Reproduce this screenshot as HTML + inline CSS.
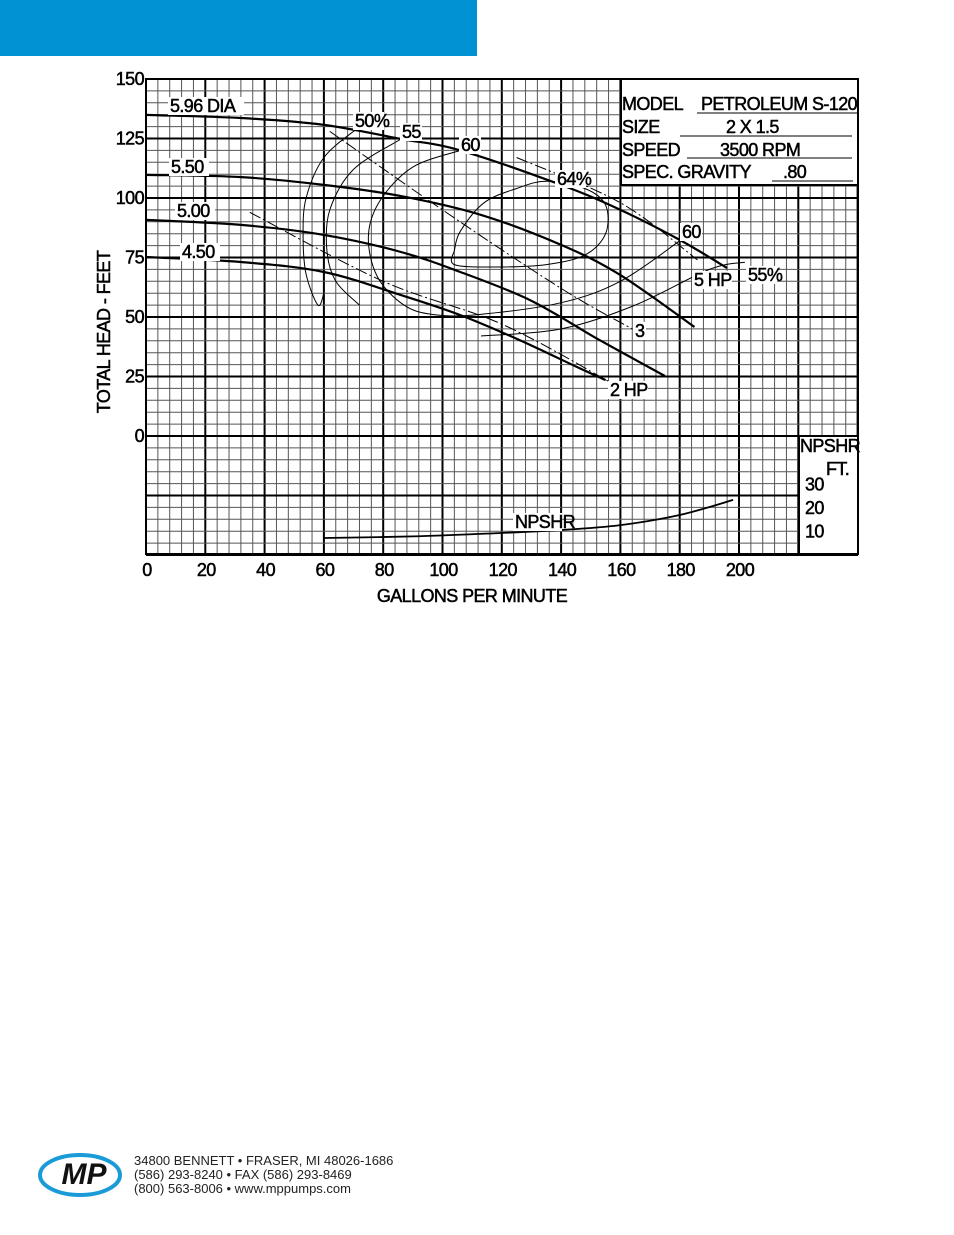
<!DOCTYPE html>
<html><head><meta charset="utf-8"><style>
html,body{margin:0;padding:0;background:#fff;}
svg{display:block;font-family:"Liberation Sans",sans-serif;}
</style></head><body>
<svg id="s" width="954" height="1235" viewBox="0 0 954 1235" xmlns="http://www.w3.org/2000/svg">
<rect x="0" y="0" width="477" height="56" fill="#0092d2"/>
<g id="grid"></g>
<g id="marks"></g>
<g id="labels"></g>
<g>
  <ellipse cx="80" cy="1175" rx="40" ry="20" fill="none" stroke="#1a9ad6" stroke-width="4"/>
  <text x="84" y="1184" font-size="30" font-weight="bold" font-style="italic" fill="#111" text-anchor="middle">MP</text>
  <text x="80" y="1190" font-size="7" font-weight="bold" font-style="italic" fill="#fff" text-anchor="middle">PUMPS</text>
  <text x="134" y="1165" font-size="13" fill="#222">34800 BENNETT • FRASER, MI 48026-1686</text>
  <text x="134" y="1179" font-size="13" fill="#222">(586) 293-8240 • FAX (586) 293-8469</text>
  <text x="134" y="1193" font-size="13" fill="#222">(800) 563-8006 • www.mppumps.com</text>
</g>
</svg>
<script>
// data (gpm, feet)
const xTicks=[0,20,40,60,80,100,120,140,160,180,200];
const yTicks=[0,25,50,75,100,125,150];
const npshTicks=[10,20,30];
const diaNames=["5.96 DIA","5.50","5.00","4.50"];
const dia596=[[0,134.9],[32,133.6],[60,130.7],[86,124.8],[106,120],[140,105.5],[160,95],[180,82.4],[196,70.6]];
const dia550=[[0,109.7],[32,108.8],[60,105.5],[86,100.8],[113,92.9],[140,80.3],[160,67.6],[185,45.8]];
const dia500=[[0,90.8],[32,88.7],[60,84.5],[86,77.3],[106,68.9],[129.5,57.1],[153,40.3],[175,25.2]];
const dia450=[[0,75.2],[32,73.1],[60,68.9],[86,59.2],[106,50.8],[126,40.3],[146,28.6],[155,23.5]];
const eff50=[[71,129],[60,117],[54,100],[53,84],[54,68],[58,55],[60,60]];
const eff55L=[[86,124.8],[70,112],[62,95],[61,78],[64,65],[72,55]];
const eff60=[[106,120],[90,113],[79,99],[75,84],[78,67],[87,55],[97,51],[112,51],[140,56],[160,65],[180,82]];
const eff55R=[[113,42],[140,45],[165,55],[190,70],[202,73]];
const eff64=[[104,78],[106,86],[114,98],[125,104],[135,107],[148,104],[155,97],[155,85],[148,76],[135,72],[118,71],[104,72],[104,78]];
const hp2=[[35,94],[80,65],[120,47],[156,23]];
const hp3=[[62,128],[100,95],[140,62],[164,45]];
const hp5=[[125,117],[160,98],[186,74]];
const npshr=[[60,6.8],[90,7.5],[119,8.9],[140,10.2],[160,12.3],[180,16.6],[198,23]];

const X=g=>146+g*2.965, Y=h=>436-h*2.38, N=n=>554-n*2.35;
const NS="http://www.w3.org/2000/svg";
function mk(tag,parent,attrs){const e=document.createElementNS(NS,tag);for(const k in attrs)e.setAttribute(k,attrs[k]);parent.appendChild(e);return e;}
const grid=document.getElementById('grid'),marks=document.getElementById('marks'),labels=document.getElementById('labels');
for(let g=0;g<=240;g+=4){const major=g%20===0;const l=mk('line',grid,{x1:X(g),x2:X(g),y1:79,y2:554,stroke:major?'#000':'#555','stroke-width':major?2:1});

}
for(let h=-50;h<=150;h+=5){const major=h%25===0;const l=mk('line',grid,{x1:146,x2:858,y1:Y(h),y2:Y(h),stroke:major?'#000':'#555','stroke-width':major?2:1});

}
let p=mk('rect',grid,{x:621,y:79,width:237,height:106,fill:'#fff',stroke:'#000','stroke-width':2});


p=mk('rect',grid,{x:799,y:436,width:59,height:118,fill:'#fff',stroke:'#000','stroke-width':2});


p=mk('rect',grid,{x:146,y:79,width:712,height:475,fill:'none',stroke:'#000','stroke-width':2});


function path(pts,fy,w,dash,name){
 const P=pts.map(q=>[X(q[0]),fy(q[1])]);
 let d='M'+P[0][0].toFixed(1)+','+P[0][1].toFixed(1);
 for(let i=0;i<P.length-1;i++){const p0=P[i-1]||P[i],p1=P[i],p2=P[i+1],p3=P[i+2]||p2;
  const c1=[p1[0]+(p2[0]-p0[0])/6,p1[1]+(p2[1]-p0[1])/6],c2=[p2[0]-(p3[0]-p1[0])/6,p2[1]-(p3[1]-p1[1])/6];
  d+=' C'+c1[0].toFixed(1)+','+c1[1].toFixed(1)+' '+c2[0].toFixed(1)+','+c2[1].toFixed(1)+' '+p2[0].toFixed(1)+','+p2[1].toFixed(1);}
 const e=mk('path',marks,{d:d,fill:'none',stroke:'#000','stroke-width':w,'stroke-linejoin':'round'});if(dash)e.setAttribute('stroke-dasharray',dash);
 
 }
path(dia596,Y,2.2,null,'curve-5.96');path(dia550,Y,2.2,null,'curve-5.50');path(dia500,Y,2.2,null,'curve-5.00');path(dia450,Y,2.2,null,'curve-4.50');
path(eff50,Y,1,null,'eff-50');path(eff55L,Y,1,null,'eff-55-left');path(eff60,Y,1,null,'eff-60');path(eff55R,Y,1,null,'eff-55-right');path(eff64,Y,1,null,'eff-64');
path(hp2,Y,1,'12 3 2 3','hp-2');path(hp3,Y,1,'12 3 2 3','hp-3');path(hp5,Y,1,'12 3 2 3','hp-5');
path(npshr,N,1.8,null,'npshr-curve');
function txt(x,y,s,name,opt){opt=opt||{};const fs=opt.fs||18;const e=mk('text',labels,{x:x,y:y,'font-size':fs,'text-anchor':opt.a||'start',fill:'#000',stroke:'#000','stroke-width':0.5,'letter-spacing':'-0.6'});
if(opt.bg){const w=s.length*fs*0.5+4;const r=document.createElementNS(NS,'rect');r.setAttribute('x',x-2);r.setAttribute('y',y-15);r.setAttribute('width',w);r.setAttribute('height',18);r.setAttribute('fill','#fff');labels.insertBefore(r,e);}
if(opt.rot)e.setAttribute('transform',opt.rot);e.textContent=s;

return e;}
xTicks.forEach(g=>txt(X(g)+1,576,String(g),'x-tick-'+g,{a:'middle'}));
yTicks.forEach(h=>txt(144,Y(h)+6,String(h),'y-tick-'+h,{a:'end'}));
npshTicks.forEach(n=>txt(805,N(n)+7,String(n),'npshr-tick-'+n));
txt(472,602,'GALLONS PER MINUTE','x-axis-title',{a:'middle'});
txt(110,332,'TOTAL HEAD - FEET','y-axis-title',{a:'middle',rot:'rotate(-90 110 332)'});
txt(170,112,diaNames[0],'label-5.96',{bg:1});txt(171,173,diaNames[1],'label-5.50',{bg:1});txt(177,217,diaNames[2],'label-5.00',{bg:1});txt(182,258,diaNames[3],'label-4.50',{bg:1});
txt(355,127,'50%','label-50',{bg:1});txt(402,138,'55','label-55',{bg:1});txt(461,151,'60','label-60',{bg:1});txt(557,185,'64%','label-64',{bg:1});
txt(682,238,'60','label-60-right',{bg:1});txt(748,281,'55%','label-55-right',{bg:1});
txt(694,286,'5 HP','label-5hp',{bg:1});txt(635,337,'3','label-3hp',{bg:1});txt(610,396,'2 HP','label-2hp',{bg:1});
txt(515,528,'NPSHR','label-npshr',{bg:1});
txt(800,452,'NPSHR','npshr-title');txt(826,475,'FT.','npshr-unit');
txt(622,110,'MODEL','spec-model');txt(701,110,'PETROLEUM S-120','spec-model-value');
txt(622,133,'SIZE','spec-size');txt(726,133,'2 X 1.5','spec-size-value');
txt(622,156,'SPEED','spec-speed');txt(720,156,'3500 RPM','spec-speed-value');
txt(622,178,'SPEC. GRAVITY','spec-gravity');txt(783,178,'.80','spec-gravity-value');
[[697,113,857],[680,136,852],[687,158,852],[772,181,853]].forEach((u,i)=>{const l=mk('line',labels,{x1:u[0],x2:u[2],y1:u[1],y2:u[1],stroke:'#000','stroke-width':1});

});
</script>
</body></html>
